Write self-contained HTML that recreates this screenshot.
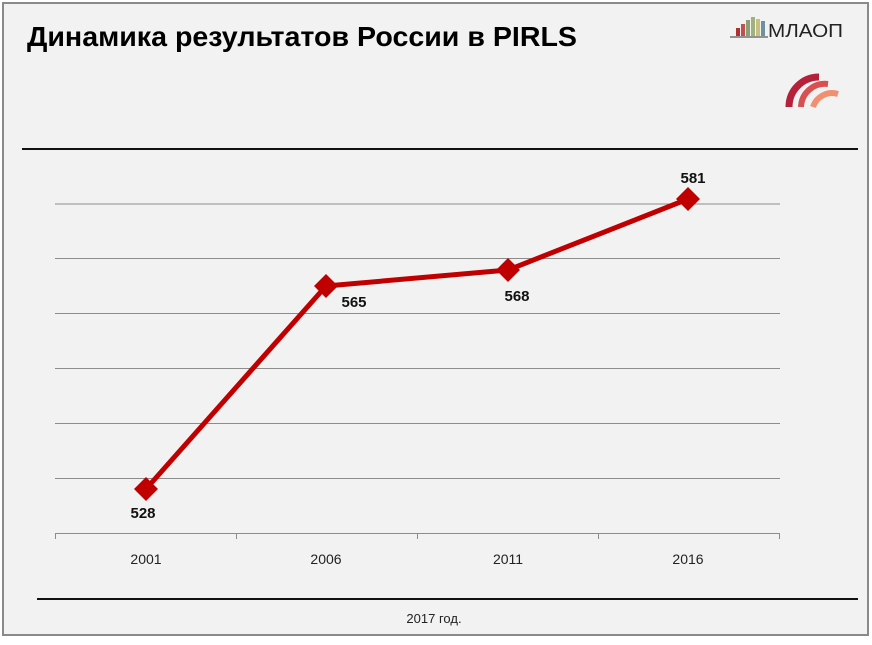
<!DOCTYPE html>
<html><head><meta charset="utf-8"><style>
html,body{margin:0;padding:0;background:#fff}
</style></head><body>
<svg width="872" height="640" viewBox="0 0 872 640" xmlns="http://www.w3.org/2000/svg" font-family="Liberation Sans, sans-serif">
<rect x="0" y="0" width="872" height="640" fill="#ffffff"/>
<rect x="3" y="3" width="865" height="632" fill="#f2f2f2" stroke="#8a8a8a" stroke-width="2"/>
<text x="27" y="46" font-size="28" font-weight="bold" fill="#000" textLength="550" lengthAdjust="spacingAndGlyphs">Динамика результатов России в PIRLS</text>
<g>
<rect x="736" y="28" width="4" height="8" fill="#b03030"/>
<rect x="741" y="24" width="4" height="12" fill="#c05050"/>
<rect x="746" y="20" width="4" height="16" fill="#8aa070"/>
<rect x="751" y="17" width="4" height="19" fill="#a0b080"/>
<rect x="756" y="19" width="4" height="17" fill="#c8c080"/>
<rect x="761" y="21" width="4" height="15" fill="#7090a0"/>
<line x1="730" y1="37" x2="768" y2="37" stroke="#333" stroke-width="1"/>
<text x="768" y="37" font-size="18" fill="#222" textLength="75" lengthAdjust="spacingAndGlyphs">МЛАОП</text>
<path d="M789 107 A30 30 0 0 1 819 77" fill="none" stroke="#b5203a" stroke-width="7"/>
<path d="M801 107 A24 24 0 0 1 828 84" fill="none" stroke="#d85050" stroke-width="6"/>
<path d="M813 107 A20 20 0 0 1 838 94" fill="none" stroke="#f09070" stroke-width="6"/>
</g>
<line x1="22" y1="149" x2="858" y2="149" stroke="#111" stroke-width="2"/>
<g stroke="#8c8c8c" stroke-width="1">
<line x1="55" y1="204" x2="780" y2="204"/>
<line x1="55" y1="258.5" x2="780" y2="258.5"/>
<line x1="55" y1="313.5" x2="780" y2="313.5"/>
<line x1="55" y1="368.5" x2="780" y2="368.5"/>
<line x1="55" y1="423.5" x2="780" y2="423.5"/>
<line x1="55" y1="478.5" x2="780" y2="478.5"/>
<line x1="55" y1="533.5" x2="780" y2="533.5"/>
<line x1="55.5" y1="533" x2="55.5" y2="539"/>
<line x1="236.5" y1="533" x2="236.5" y2="539"/>
<line x1="417.5" y1="533" x2="417.5" y2="539"/>
<line x1="598.5" y1="533" x2="598.5" y2="539"/>
<line x1="779.5" y1="533" x2="779.5" y2="539"/>
</g>
<polyline points="146,489 326,286 508,270 688,199" fill="none" stroke="#c00000" stroke-width="5" stroke-linejoin="round"/>
<g fill="#c00000">
<path d="M146 477 L158 489 L146 501 L134 489Z"/>
<path d="M326 274 L338 286 L326 298 L314 286Z"/>
<path d="M508 258 L520 270 L508 282 L496 270Z"/>
<path d="M688 187 L700 199 L688 211 L676 199Z"/>
</g>
<g font-size="15" font-weight="bold" fill="#111" text-anchor="middle">
<text x="143" y="518">528</text>
<text x="354" y="307">565</text>
<text x="517" y="301">568</text>
<text x="693" y="183">581</text>
</g>
<g font-size="14" fill="#222" text-anchor="middle">
<text x="146" y="564">2001</text>
<text x="326" y="564">2006</text>
<text x="508" y="564">2011</text>
<text x="688" y="564">2016</text>
</g>
<line x1="37" y1="599" x2="858" y2="599" stroke="#111" stroke-width="2"/>
<text x="434" y="623" font-size="13" fill="#222" text-anchor="middle">2017 год.</text>
</svg>
</body></html>
